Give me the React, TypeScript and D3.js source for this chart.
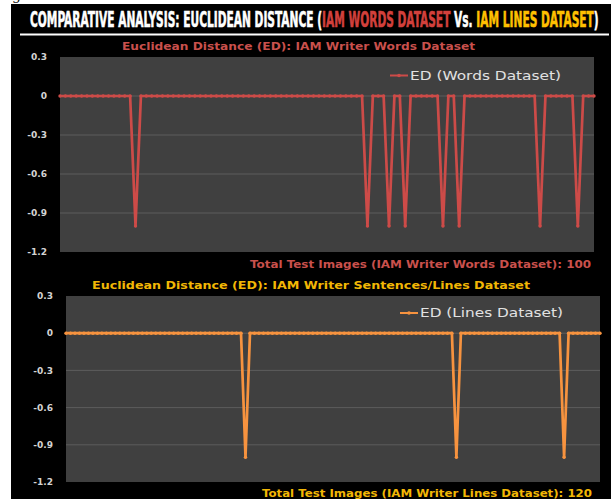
import React, { useLayoutEffect, useRef, useState } from "react";
import * as d3 from "d3";

// ---- Data ----
const yTicks = [0.3, 0, -0.3, -0.6, -0.9, -1.2];
const yTickLabels = ["0.3", "0", "-0.3", "-0.6", "-0.9", "-1.2"];

// ED for IAM Writer Words Dataset: 100 test images
const wordsED = [
  0, 0, 0, 0, 0, 0, 0, 0, 0, 0,
  0, 0, 0, 0, -1, 0, 0, 0, 0, 0,
  0, 0, 0, 0, 0, 0, 0, 0, 0, 0,
  0, 0, 0, 0, 0, 0, 0, 0, 0, 0,
  0, 0, 0, 0, 0, 0, 0, 0, 0, 0,
  0, 0, 0, 0, 0, 0, 0, -1, 0, 0,
  0, -1, 0, 0, -1, 0, 0, 0, 0, 0,
  0, -1, 0, 0, -1, 0, 0, 0, 0, 0,
  0, 0, 0, 0, 0, 0, 0, 0, 0, -1,
  0, 0, 0, 0, 0, 0, -1, 0, 0, 0,
];

// ED for IAM Writer Lines Dataset: 120 test images
const linesED = [
  0, 0, 0, 0, 0, 0, 0, 0, 0, 0,
  0, 0, 0, 0, 0, 0, 0, 0, 0, 0,
  0, 0, 0, 0, 0, 0, 0, 0, 0, 0,
  0, 0, 0, 0, 0, 0, 0, 0, 0, 0,
  -1, 0, 0, 0, 0, 0, 0, 0, 0, 0,
  0, 0, 0, 0, 0, 0, 0, 0, 0, 0,
  0, 0, 0, 0, 0, 0, 0, 0, 0, 0,
  0, 0, 0, 0, 0, 0, 0, 0, 0, 0,
  0, 0, 0, 0, 0, 0, 0, -1, 0, 0,
  0, 0, 0, 0, 0, 0, 0, 0, 0, 0,
  0, 0, 0, 0, 0, 0, 0, 0, 0, 0,
  0, -1, 0, 0, 0, 0, 0, 0, 0, 0,
];

const titleParts = [
  { text: "COMPARATIVE ANALYSIS: EUCLIDEAN DISTANCE (", tone: "white" },
  { text: "IAM WORDS DATASET", tone: "red" },
  { text: " Vs. ", tone: "white" },
  { text: "IAM LINES DATASET", tone: "yellow" },
  { text: ")", tone: "white" },
];

const RED = "#c9504c";
const YELLOW = "#f2b705";
const ORANGE = "#f7933f";
const LINE_RED = "#cd4b48";

type PanelProps = {
  values: number[];
  left: number; right: number; top: number; bottom: number;
  tickRight: number;
  color: string;
  textColor: string;
  subtitle: string; subX: number; subW: number; subY: number;
  xTitle: string; xTitleX: number; xTitleW: number; xTitleY: number;
  legend: string; legX: number; legW: number; legY: number;
};

function Panel(p: PanelProps) {
  const x = d3.scaleLinear().domain([0, p.values.length - 1]).range([p.left, p.right]);
  const y = d3.scaleLinear().domain([-1.2, 0.3]).range([p.bottom, p.top]);
  const line = d3.line<number>().x((_, i) => x(i)).y((d) => y(d));
  return (
    <g>
      <rect x={p.left} y={p.top} width={p.right - p.left} height={p.bottom - p.top} fill="#404040" />
      {yTicks.filter((t) => t < 0.29 && t > -1.19).map((t) => (
        <line key={t} x1={p.left} x2={p.right} y1={y(t)} y2={y(t)} stroke="#5c5c5c" strokeWidth={1} />
      ))}
      {yTicks.map((t, i) => (
        <text key={t} x={p.tickRight} y={y(t)} dy="0.35em" textAnchor="end"
          fontFamily="DejaVu Sans" fontWeight="bold" fontSize={9} fill="#d4d4d4">{yTickLabels[i]}</text>
      ))}
      <path d={line(p.values) || ""} fill="none" stroke={p.color} strokeWidth={2.7} strokeLinejoin="round" />
      {p.values.map((v, i) => (
        <circle key={i} cx={x(i)} cy={y(v)} r={1.7} fill={p.color} />
      ))}
      <text x={p.subX} y={p.subY} dy="0.35em" textLength={p.subW} lengthAdjust="spacingAndGlyphs"
        fontFamily="DejaVu Sans" fontWeight="bold" fontSize={10.5} fill={p.textColor}>{p.subtitle}</text>
      <text x={p.xTitleX} y={p.xTitleY} dy="0.35em" textLength={p.xTitleW} lengthAdjust="spacingAndGlyphs"
        fontFamily="DejaVu Sans" fontWeight="bold" fontSize={10.5} fill={p.textColor}>{p.xTitle}</text>
      <line x1={p.legX - 20} x2={p.legX - 2} y1={p.legY} y2={p.legY} stroke={p.color} strokeWidth={2} />
      <circle cx={p.legX - 11} cy={p.legY} r={1.8} fill={p.color} />
      <text x={p.legX} y={p.legY} dy="0.35em" textLength={p.legW} lengthAdjust="spacingAndGlyphs"
        fontFamily="DejaVu Sans" fontSize={12.5} fill="#e2e2e2">{p.legend}</text>
    </g>
  );
}

export default function App() {
  const toneColor: Record<string, string> = { white: "#ffffff", red: "#d2403c", yellow: "#ffc000" };
  const titleRef = useRef<SVGTextElement>(null);
  const [sx, setSx] = useState(0.52);
  useLayoutEffect(() => {
    if (titleRef.current) {
      const w = titleRef.current.getComputedTextLength();
      if (w > 0) setSx(569 / w);
    }
  }, []);
  return (
    <svg width={611} height={499} style={{ position: "absolute", left: 0, top: 0 }}>
      <rect x={0} y={0} width={611} height={499} fill="#ffffff" />
      <text x={12} y={0} fontFamily="DejaVu Serif" fontSize={14} fill="#000">g</text>
      <rect x={11} y={4} width={600} height={495} fill="#000000" />
      <g transform={`translate(30,27) scale(${sx},1)`}>
        <text ref={titleRef} x={0} y={0} fontFamily="DejaVu Sans Condensed" fontWeight="bold" fontSize={21.5}
          style={{ whiteSpace: "pre" }}>
          {titleParts.map((tp, i) => (
            <tspan key={i} fill={toneColor[tp.tone]} stroke={toneColor[tp.tone]} strokeWidth={0.6}>{tp.text}</tspan>
          ))}
        </text>
      </g>
      <line x1={20} x2={609} y1={34.5} y2={34.5} stroke="#ffffff" strokeWidth={2} />
      <Panel values={wordsED} left={60} right={594} top={57} bottom={252} tickRight={47}
        color={LINE_RED} textColor={RED}
        subtitle="Euclidean Distance (ED): IAM Writer Words Dataset" subX={122} subW={353} subY={46}
        xTitle="Total Test Images (IAM Writer Words Dataset): 100" xTitleX={250} xTitleW={341} xTitleY={264}
        legend="ED (Words Dataset)" legX={410} legW={151} legY={75.5} />
      <Panel values={linesED} left={66} right={600} top={296} bottom={482} tickRight={53}
        color={ORANGE} textColor={YELLOW}
        subtitle="Euclidean Distance (ED): IAM Writer Sentences/Lines Dataset" subX={92} subW={438} subY={285}
        xTitle="Total Test Images (IAM Writer Lines Dataset): 120" xTitleX={262} xTitleW={330} xTitleY={493}
        legend="ED (Lines Dataset)" legX={420} legW={143} legY={313} />
    </svg>
  );
}
